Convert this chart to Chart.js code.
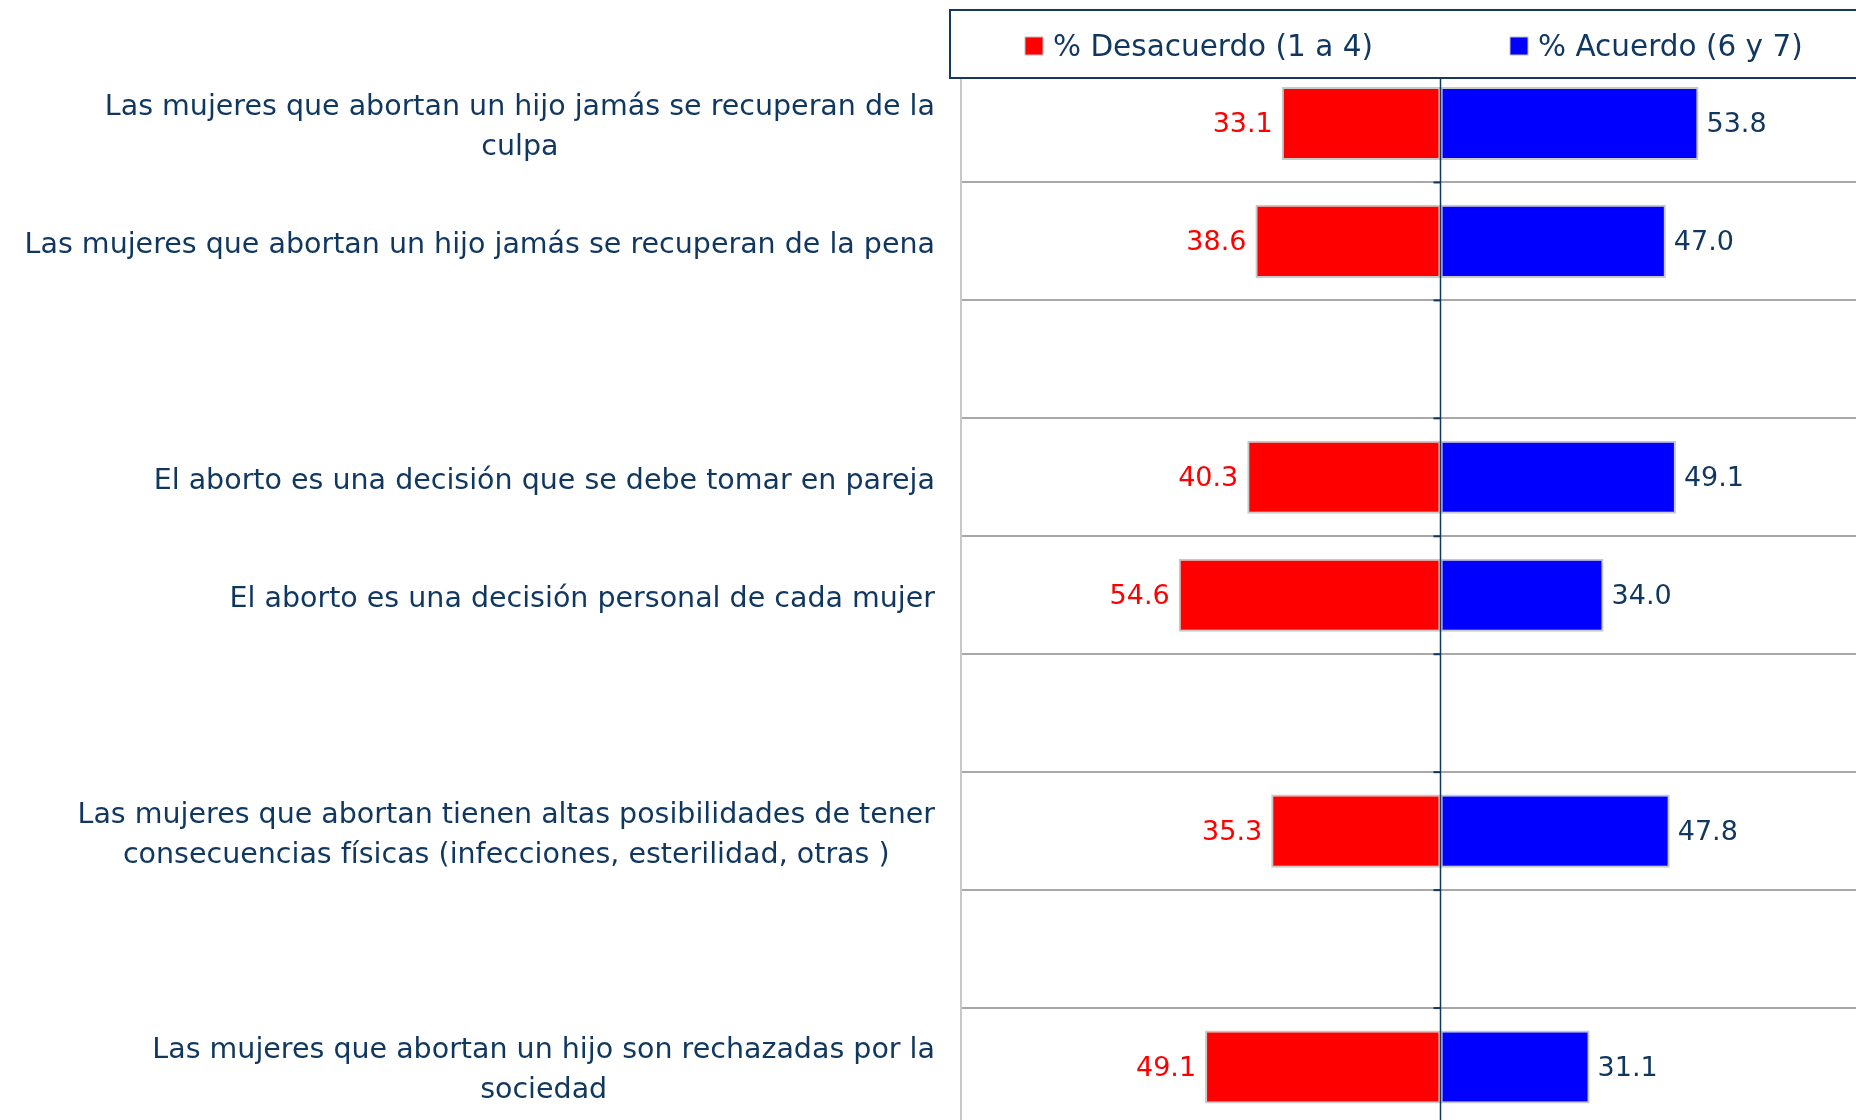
<!DOCTYPE html>
<html>
<head>
<meta charset="utf-8">
<script src="https://cdn.jsdelivr.net/npm/chart.js@4"></script>
<style>
  html, body { margin: 0; padding: 0; background: #fff; overflow: hidden; }
  #wrap { width: 1921px; height: 1127px; }
</style>
</head>
<body>
<div id="wrap"><canvas id="chart" width="1921" height="1127"></canvas></div>
<script>
// categories, top to bottom (blank rows are spacers in the original)
const categories = [
  ["Las mujeres que abortan un hijo jamás se recuperan de la", "culpa"],
  ["Las mujeres que abortan un hijo jamás se recuperan de la pena"],
  [""],
  ["El aborto es una decisión que se debe tomar en pareja"],
  ["El aborto es una decisión personal de cada mujer"],
  [""],
  ["Las mujeres que abortan tienen altas posibilidades de tener", "consecuencias físicas (infecciones, esterilidad, otras )"],
  [""],
  ["Las mujeres que abortan un hijo son rechazadas por la", "sociedad"],
];
const desacuerdo = [33.1, 38.6, null, 40.3, 54.6, null, 35.3, null, 49.1];
const acuerdo = [53.8, 47.0, null, 49.1, 34.0, null, 47.8, null, 31.1];
const seriesNames = ["% Desacuerdo (1 a 4)", "% Acuerdo (6 y 7)"];

const NAVY = "#10375f";
const FONT = "'DejaVu Sans', Verdana, sans-serif";

const overlay = {
  id: "overlay",
  afterDatasetsDraw(chart) {
    const ctx = chart.ctx;
    const xs = chart.scales.x, ys = chart.scales.y;
    const area = chart.chartArea;
    const x0 = xs.getPixelForValue(0);
    ctx.save();

    // zero line + little tick marks
    ctx.strokeStyle = NAVY;
    ctx.lineWidth = 1.5;
    ctx.beginPath();
    ctx.moveTo(x0, area.top);
    ctx.lineTo(x0, area.bottom);
    ctx.stroke();
    ctx.lineWidth = 2;
    for (let i = 0; i <= categories.length; i++) {
      const yy = ys.getPixelForValue(i - 0.5);
      ctx.beginPath();
      ctx.moveTo(x0 - 7, yy);
      ctx.lineTo(x0, yy);
      ctx.stroke();
    }

    // value labels
    ctx.font = "27px " + FONT;
    ctx.textBaseline = "middle";
    chart.data.datasets.forEach((ds, di) => {
      const meta = chart.getDatasetMeta(di);
      meta.data.forEach((bar, i) => {
        const v = ds.data[i];
        if (v == null) return;
        const txt = Math.abs(v).toFixed(1);
        if (v < 0) {
          ctx.fillStyle = "#ff0000";
          ctx.textAlign = "right";
          ctx.fillText(txt, bar.x - 9, bar.y + 2);
        } else {
          ctx.fillStyle = NAVY;
          ctx.textAlign = "left";
          ctx.fillText(txt, bar.x + 8, bar.y + 2);
        }
      });
    });

    // category labels: block right aligned, lines centred inside block
    ctx.font = "28.5px " + FONT;
    ctx.fillStyle = NAVY;
    ctx.textAlign = "center";
    const right = 935, lineH = 40;
    categories.forEach((lines, i) => {
      const yc = ys.getPixelForValue(i) + 4;
      const w = Math.max(...lines.map((l) => ctx.measureText(l).width));
      const cx = right - w / 2;
      lines.forEach((l, k) => {
        ctx.fillText(l, cx, yc + (k - (lines.length - 1) / 2) * lineH);
      });
    });
    ctx.restore();
  },
  afterDraw(chart) {
    const ctx = chart.ctx;
    ctx.save();
    // legend box overlaps top of plot
    ctx.fillStyle = "#fff";
    ctx.fillRect(950, 10, 1000, 68);
    ctx.strokeStyle = "#17375e";
    ctx.lineWidth = 2;
    ctx.strokeRect(950, 10, 1000, 68);
    const itemX = [1025, 1510];
    ctx.font = "29.5px " + FONT;
    ctx.textBaseline = "middle";
    ctx.textAlign = "left";
    chart.data.datasets.forEach((ds, i) => {
      ctx.fillStyle = ds.backgroundColor;
      ctx.fillRect(itemX[i], 37, 18, 18);
      ctx.strokeStyle = "#c0c0c0";
      ctx.lineWidth = 1;
      ctx.strokeRect(itemX[i], 37, 18, 18);
      ctx.fillStyle = NAVY;
      ctx.fillText(ds.label, itemX[i] + 28, 48);
    });
    ctx.restore();
  },
};

new Chart(document.getElementById("chart"), {
  type: "bar",
  data: {
    labels: categories,
    datasets: [
      {
        label: seriesNames[0],
        data: desacuerdo.map((v) => (v == null ? null : -v)),
        backgroundColor: "#ff0000",
        borderColor: "#c8c8c8",
        borderWidth: 2,
        borderSkipped: false,
      },
      {
        label: seriesNames[1],
        data: acuerdo,
        backgroundColor: "#0000ff",
        borderColor: "#c8c8c8",
        borderWidth: 2,
        borderSkipped: false,
      },
    ],
  },
  options: {
    indexAxis: "y",
    responsive: false,
    animation: false,
    devicePixelRatio: 1,
    layout: { padding: { top: 64.5, left: 0, right: 1, bottom: 1 } },
    categoryPercentage: 1,
    barPercentage: 0.62,
    plugins: {
      legend: { display: false },
      tooltip: { enabled: false },
    },
    scales: {
      x: {
        display: false,
        stacked: true,
        min: -100,
        max: 100,
      },
      y: {
        stacked: true,
        ticks: { display: false },
        grid: { color: "#a8a8a8", lineWidth: 2, drawTicks: false, offset: true },
        border: { display: true, color: "#c8c8c8", width: 2 },
        afterFit(scale) {
          scale.width = 961;
        },
      },
    },
  },
  plugins: [overlay],
});
</script>
</body>
</html>
